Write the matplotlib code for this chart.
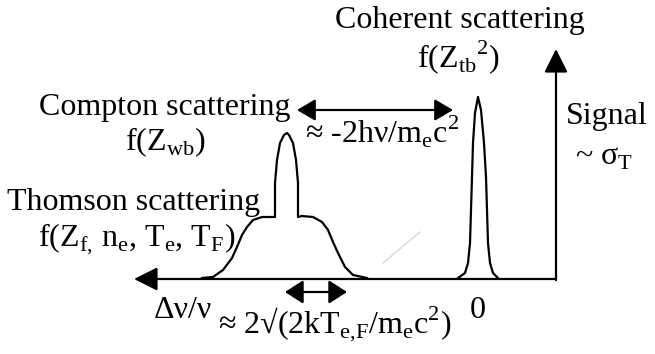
import matplotlib
matplotlib.use("Agg")
from matplotlib import pyplot as plt
from matplotlib.transforms import Bbox, TransformedBbox

plt.rcParams['font.family'] = ['Liberation Serif', 'DejaVu Serif']
plt.rcParams['mathtext.fontset'] = 'custom'
plt.rcParams['mathtext.rm'] = 'Liberation Serif'

# Thomson plateau with the Compton peak on top (pixel coords)
thomson_x = [202, 213, 223, 232, 237, 242, 247, 253, 262, 273, 275,
             275, 277, 280, 284, 287, 289, 293, 296, 298, 298,
             302, 313, 322, 328, 333, 338, 345, 353, 367]
thomson_y = [278, 277, 270, 258, 247, 235, 227, 220, 217, 217, 217,
             183, 160, 143, 135, 133, 135, 143, 160, 183, 217,
             216, 217, 222, 230, 242, 253, 267, 275, 278]

# coherent (elastic) peak at zero shift
coherent_x = [458, 465, 468, 470, 471, 472, 473, 475, 478,
              481, 484, 486, 487, 488, 490, 493, 498]
coherent_y = [278, 273, 263, 243, 210, 177, 143, 113, 97,
              110, 143, 177, 210, 243, 263, 273, 278]

FS = 23


def arrow(ax, start, end, style, hl, hw):
    ax.annotate('', xy=end, xytext=start,
                arrowprops=dict(arrowstyle=f'{style},head_length={hl},head_width={hw}',
                                color='black', lw=1.6, shrinkA=0, shrinkB=0,
                                mutation_scale=20))


fig = plt.figure(figsize=(6.55, 3.54), dpi=100)
ax = fig.add_axes([0, 0, 1, 1])
ax.set_xlim(0, 655)
ax.set_ylim(354, 0)
ax.axis('off')

# axes of the sketch
arrow(ax, (556, 279), (134, 279), '-|>', hl=0.72, hw=0.36)
arrow(ax, (556, 280), (556, 49), '-|>', hl=0.72, hw=0.36)

ax.plot(thomson_x, thomson_y, color='black', lw=1.6, solid_joinstyle='round')
ax.plot(coherent_x, coherent_y, color='black', lw=1.6, solid_joinstyle='round')

# shift / width arrows
arrow(ax, (297, 110), (453, 110), '<|-|>', hl=0.56, hw=0.33)
arrow(ax, (285, 292), (347, 292), '<|-|>', hl=0.56, hw=0.36)

# faint stray stroke
ax.plot([383, 420], [263, 232], color='#cfcfcf', lw=0.8)

kw = dict(fontsize=FS, ha='center', va='baseline', color='black')
ax.text(460, 28, 'Coherent scattering', **kw)
ax.text(459, 67, r'f(Z$_\mathregular{tb}{}^\mathregular{2}$)', **kw)
ax.text(165, 115, 'Compton scattering', **kw)
ax.text(165, 150, r'f(Z$_\mathregular{wb}$)', **kw)
ax.text(305, 143, r'≈ -2hν/m$_\mathregular{e}$c$^\mathregular{2}$', fontsize=FS,
        ha='left', va='baseline')
ax.text(607, 124, 'Signal', **kw)
ax.text(604, 165, r'~ σ$_\mathregular{T}$', **kw)
ax.text(134, 210, 'Thomson scattering', **kw)
ax.text(137, 246, r'f(Z$_\mathregular{f{,}}$ n$_\mathregular{e}$, T$_\mathregular{e}$, T$_\mathregular{F}$)', **kw)
ax.text(218, 333, r'≈ 2√(2kT$_\mathregular{e{,}F}$/m$_\mathregular{e}$c$^\mathregular{2}$)',
        fontsize=FS, ha='left', va='baseline')

# the lower labels are cut off at the bottom in the original
clip = TransformedBbox(Bbox([[0, 0], [655, 320]]), ax.transData)
for x, s in [(183, 'Δν/ν'), (478, '0')]:
    t = ax.text(x, 318, s, clip_on=True, **kw)
    t.set_clip_box(clip)

fig.savefig('out.png', dpi=100)
